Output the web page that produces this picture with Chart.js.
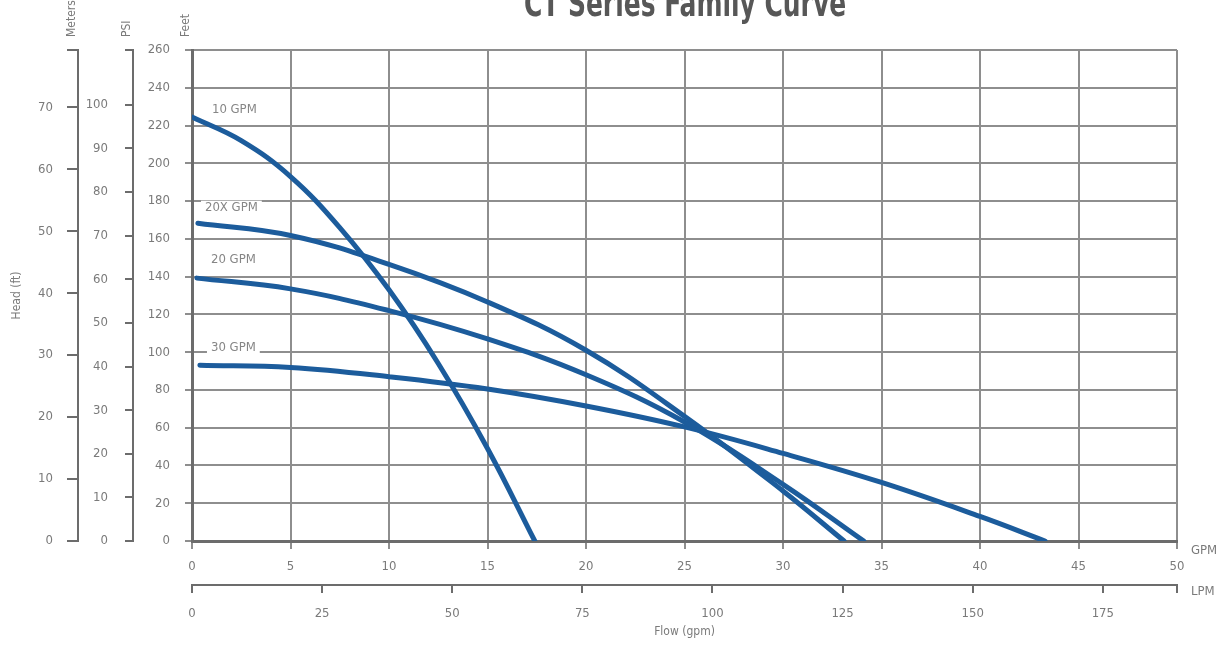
<!DOCTYPE html>
<html>
<head>
<meta charset="utf-8">
<script src="https://cdn.jsdelivr.net/npm/chart.js@4"></script>
<style>
  html, body { margin: 0; padding: 0; background: #fff; }
</style>
</head>
<body>
<canvas id="familyCurve" width="1220" height="647"></canvas>
<script>
// Curve data: flow in GPM, head in feet
const flow10 = [0, 2.5, 5, 7.5, 10, 12.5, 15, 17.4];
const head10 = [224.5, 212, 193, 166, 133, 94, 49, 0];

const flow20X = [0.3, 5, 10, 15, 20, 25, 30, 33.1];
const head20X = [168.3, 161.8, 146.5, 126.6, 101, 66, 26.5, 0];

const flow20 = [0.25, 5, 10, 15, 20, 25, 30, 34.1];
const head20 = [139.2, 133.5, 122, 107, 88, 63, 30, 0];

const flow30 = [0.4, 5, 10, 15, 20, 25, 30, 35, 40, 43.3];
const head30 = [93.1, 91.9, 87, 80.5, 71.5, 60.4, 46.4, 31, 13, 0];

// Curve names and where their labels sit (GPM, feet)
const curveNames = ['10 GPM', '20X GPM', '20 GPM', '30 GPM'];
const labelFlow = [2.15, 2.0, 2.1, 2.1];
const labelHead = [228.5, 176.5, 149, 102.5];

// Axis ticks
const meterTicks = [0, 10, 20, 30, 40, 50, 60, 70];
const psiTicks = [0, 10, 20, 30, 40, 50, 60, 70, 80, 90, 100];
const lpmTicks = [0, 25, 50, 75, 100, 125, 150, 175];

const FT_PER_M = 3.281;
const FT_PER_PSI = 2.31;
const LPM_PER_GPM = 3.785;
const maxFeet = 260;
const maxGpm = 50;

const lineBlue = '#1c5c9c';
const gridGray = '#8e8e8e';
const axisGray = '#6c6c6c';
const textGray = '#7a7a7a';
const FONT = '"Liberation Sans Narrow", "DejaVu Sans Condensed", sans-serif';

const toPoints = (xs, ys) => xs.map((x, i) => ({ x: x, y: ys[i] }));

const curves = [
    toPoints(flow10, head10),
    toPoints(flow20X, head20X),
    toPoints(flow20, head20),
    toPoints(flow30, head30)
];

// ticks with an unlabeled end hook at the top/right of the side axes
const withHook = (vals, max) => vals.concat([max]).map(v => ({ value: v }));
const hideHook = max => v => (v === max ? '' : v);

const maxMeters = maxFeet / FT_PER_M;
const maxPsi = maxFeet / FT_PER_PSI;
const maxLpm = maxGpm * LPM_PER_GPM;

const tickFont = { family: FONT, size: 13 };

// Texts that are not part of Chart.js scales
const textPlugin = {
    id: 'curveText',
    afterDraw(chart) {
        const ctx = chart.ctx;
        const x = chart.scales.x;
        const y = chart.scales.y;
        const area = chart.chartArea;
        ctx.save();

        // title (cut off at the top like in the scan), squeezed to a condensed look
        ctx.save();
        ctx.fillStyle = '#575757';
        ctx.font = 'bold 38px ' + FONT;
        ctx.textAlign = 'center';
        ctx.textBaseline = 'alphabetic';
        ctx.translate(685, 16);
        ctx.scale(0.73, 1);
        ctx.fillText('CT Series Family Curve', 0, 0);
        ctx.restore();

        // curve labels
        ctx.font = '13px ' + FONT;
        ctx.textAlign = 'center';
        ctx.textBaseline = 'middle';
        curveNames.forEach((name, i) => {
            const px = x.getPixelForValue(labelFlow[i]);
            const py = y.getPixelForValue(labelHead[i]);
            const w = ctx.measureText(name).width;
            ctx.fillStyle = '#fff';
            ctx.fillRect(px - w / 2 - 4, py - 7, w + 8, 14);
            ctx.fillStyle = '#868686';
            ctx.fillText(name, px, py);
        });

        // unit names on top of the vertical axes
        ctx.font = '12px ' + FONT;
        ctx.fillStyle = textGray;
        ctx.textAlign = 'left';
        [['Meters', chart.scales.meters], ['PSI', chart.scales.psi], ['Feet', y]].forEach(([t, s]) => {
            ctx.save();
            ctx.translate(s.right - 6, area.top - 13);
            ctx.rotate(-Math.PI / 2);
            ctx.fillText(t, 0, 0);
            ctx.restore();
        });

        // unit names at the right end of the flow axes
        ctx.font = '13px ' + FONT;
        ctx.fillText('GPM', area.right + 14, 551);
        ctx.fillText('LPM', area.right + 14, 592);
        ctx.restore();
    }
};

const ctx = document.getElementById('familyCurve').getContext('2d');

const familyChart = new Chart(ctx, {
    type: 'line',
    data: {
        datasets: curves.map((pts, i) => ({
            label: curveNames[i],
            data: pts,
            borderColor: lineBlue,
            borderWidth: 5,
            pointRadius: 0,
            fill: false,
            tension: 0.4,
            borderCapStyle: 'round'
        }))
    },
    options: {
        responsive: false,
        animation: false,
        events: [],
        layout: { padding: { top: 50, right: 43, left: 0, bottom: 0 } },
        plugins: {
            legend: { display: false },
            tooltip: { enabled: false },
            title: { display: false }
        },
        scales: {
            x: {
                type: 'linear',
                position: 'bottom',
                weight: 0,
                min: 0,
                max: maxGpm,
                ticks: { stepSize: 5, color: textGray, font: tickFont, padding: 10, maxRotation: 0 },
                grid: { color: gridGray, lineWidth: 2, tickLength: 8, tickColor: gridGray },
                border: { color: axisGray, width: 3 },
                afterFit: s => { s.height = 44; }
            },
            lpm: {
                type: 'linear',
                position: 'bottom',
                weight: 1,
                min: 0,
                max: maxLpm,
                afterBuildTicks: s => { s.ticks = withHook(lpmTicks, maxLpm); },
                ticks: { color: textGray, font: tickFont, padding: 13, maxRotation: 0, callback: hideHook(maxLpm) },
                grid: { drawOnChartArea: false, tickLength: 8, tickColor: axisGray, lineWidth: 2 },
                border: { color: axisGray, width: 2 },
                title: { display: true, text: 'Flow (gpm)', color: textGray, font: { family: FONT, size: 12 }, padding: { top: 0, bottom: 8 } },
                afterFit: s => { s.height = 62; }
            },
            y: {
                position: 'left',
                weight: 0,
                min: 0,
                max: maxFeet,
                ticks: { stepSize: 20, color: textGray, font: tickFont, padding: 15 },
                grid: { color: gridGray, lineWidth: 2, tickLength: 7, tickColor: gridGray },
                border: { color: axisGray, width: 3 },
                afterFit: s => { s.width = 59; }
            },
            psi: {
                type: 'linear',
                position: 'left',
                weight: 1,
                min: 0,
                max: maxPsi,
                afterBuildTicks: s => { s.ticks = withHook(psiTicks, maxPsi); },
                ticks: { color: textGray, font: tickFont, padding: 17, callback: hideHook(maxPsi) },
                grid: { drawOnChartArea: false, tickLength: 8, tickColor: axisGray, lineWidth: 2 },
                border: { color: axisGray, width: 2 },
                afterFit: s => { s.width = 55; }
            },
            meters: {
                type: 'linear',
                position: 'left',
                weight: 2,
                min: 0,
                max: maxMeters,
                afterBuildTicks: s => { s.ticks = withHook(meterTicks, maxMeters); },
                ticks: { color: textGray, font: tickFont, padding: 14, callback: hideHook(maxMeters) },
                grid: { drawOnChartArea: false, tickLength: 11, tickColor: axisGray, lineWidth: 2 },
                border: { color: axisGray, width: 2 },
                title: { display: true, text: 'Head (ft)', color: textGray, font: { family: FONT, size: 12 }, padding: { top: 10, bottom: 0 } },
                afterFit: s => { s.width = 78; }
            }
        }
    },
    plugins: [textPlugin]
});
</script>
</body>
</html>
